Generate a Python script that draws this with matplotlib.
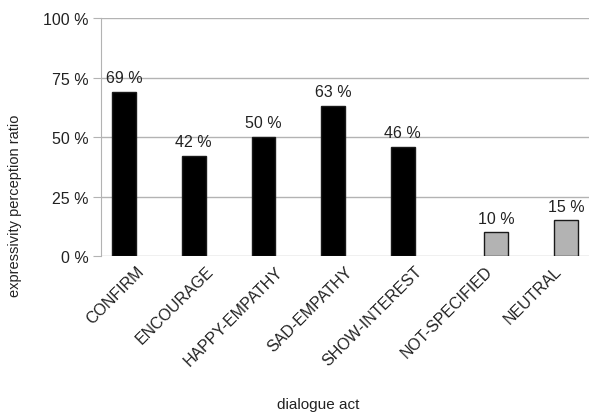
import numpy as np
import matplotlib.pyplot as plt

plt.rcParams['font.family'] = ['Liberation Sans', 'DejaVu Sans']

acts = ['CONFIRM', 'ENCOURAGE', 'HAPPY-EMPATHY', 'SAD-EMPATHY',
        'SHOW-INTEREST', 'NOT-SPECIFIED', 'NEUTRAL']
expressive = [69, 42, 50, 63, 46, None, None]
baseline = [None, None, None, None, None, 10, 15]
yticks = [0, 25, 50, 75, 100]

fig = plt.figure(figsize=(5.89, 4.14), dpi=100)
ax = fig.add_axes([0.1715, 0.379, 0.8285, 0.575])

x = np.arange(len(acts))
w = 0.34
grid_c = '#b3b3b3'
txt_c = '#222222'

for series, off, col in [(expressive, -w / 2, 'black'), (baseline, w / 2, '#b3b3b3')]:
    xs = [x[i] + off for i, v in enumerate(series) if v is not None]
    vs = [v for v in series if v is not None]
    ax.bar(xs, vs, width=w, color=col, edgecolor='#1a1a1a', linewidth=1, zorder=3)
    for xi, v in zip(xs, vs):
        ax.text(xi, v + 2.8, f'{v} %', ha='center', va='bottom', fontsize=11.5, color=txt_c)

ax.set_xlim(-0.5, len(acts) - 0.5)
ax.set_ylim(0, 100)
ax.set_yticks(yticks)
ax.set_yticklabels([f'{t} %' for t in yticks], fontsize=11.5, color=txt_c)
ax.set_xticks(x)
ax.set_xticklabels(acts, rotation=45, ha='right', rotation_mode='anchor', fontsize=11.5, color=txt_c)
ax.tick_params(axis='x', length=0, pad=5)
ax.tick_params(axis='y', length=6, color=grid_c, pad=3)
ax.grid(axis='y', color=grid_c, linewidth=1, zorder=0)
for s in ['top', 'right', 'bottom']:
    ax.spines[s].set_visible(False)
ax.spines['left'].set_color(grid_c)

fig.text(15 / 589, 0.502, 'expressivity perception ratio', rotation=90,
         ha='center', va='center', fontsize=10.5, color=txt_c)
fig.text(0.54, 0.022, 'dialogue act', ha='center', va='center', fontsize=11, color=txt_c)

fig.savefig('out.png', dpi=100)
